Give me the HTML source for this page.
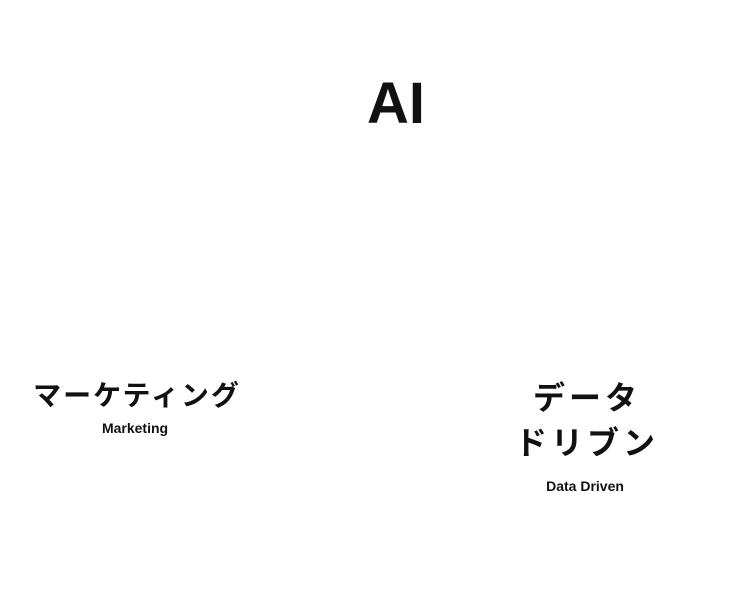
<!DOCTYPE html>
<html><head><meta charset="utf-8"><style>
html,body{margin:0;padding:0;background:#fff;width:735px;height:606px;overflow:hidden}
body{position:relative;font-family:"Liberation Sans","Noto Sans CJK JP",sans-serif;color:#111}
.t{position:absolute;white-space:nowrap;text-align:center;transform:translateX(-50%)}
</style></head><body>
<div class="t" style="left:396px;top:72px;font-size:58px;line-height:64px;font-weight:bold">AI</div>
<div class="t" style="left:137px;top:378px;font-size:28px;line-height:36px;font-weight:bold;letter-spacing:2px">マーケティング</div>
<div class="t" style="left:135px;top:418px;font-size:14px;line-height:20px;font-weight:bold">Marketing</div>
<div class="t" style="left:587px;top:376px;font-size:32px;line-height:45px;font-weight:bold;letter-spacing:4px">データ<br>ドリブン</div>
<div class="t" style="left:585px;top:476px;font-size:14px;line-height:20px;font-weight:bold">Data Driven</div>
</body></html>
